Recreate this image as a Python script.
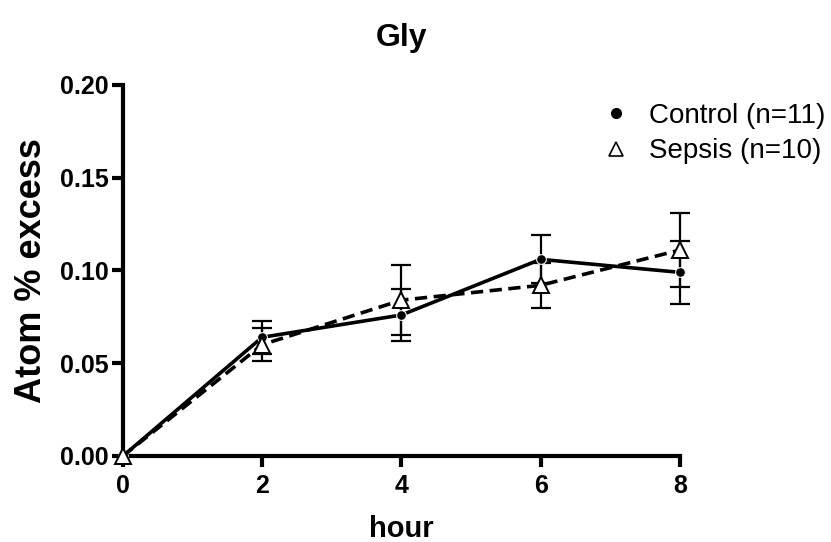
import numpy as np, pandas as pd, matplotlib
matplotlib.use('Agg')
import matplotlib.pyplot as plt, seaborn as sns
from matplotlib.lines import Line2D

hours = [0, 2, 4, 6, 8]
control_mean = [0.0, 0.064, 0.076, 0.106, 0.099]
control_err = [0.0, 0.009, 0.014, 0.013, 0.017]
sepsis_mean = [0.0, 0.060, 0.084, 0.092, 0.111]
sepsis_err = [0.0, 0.009, 0.019, 0.012, 0.020]
groups = ['Control (n=11)', 'Sepsis (n=10)']

sns.set_style('ticks')
plt.rcParams['font.family'] = ['Liberation Sans', 'DejaVu Sans']
for k in ['text.color', 'axes.labelcolor', 'xtick.color', 'ytick.color', 'axes.edgecolor']:
    plt.rcParams[k] = 'black'

df = pd.DataFrame({
    'hour': hours * 2,
    'val': control_mean + sepsis_mean,
    'grp': [groups[0]] * len(hours) + [groups[1]] * len(hours),
})

fig = plt.figure(figsize=(8.31, 5.42), dpi=100)
ax = fig.add_axes([0.148, 0.1587, 0.670, 0.6845])

# barras de error primero
ax.errorbar(hours, control_mean, yerr=control_err, fmt='none', ecolor='black', elinewidth=1.6, capsize=7, capthick=1.6, zorder=2, clip_on=False)
ax.errorbar(hours, sepsis_mean, yerr=sepsis_err, fmt='none', ecolor='black', elinewidth=1.6, capsize=7, capthick=1.6, zorder=2, clip_on=False)

sns.lineplot(data=df, x='hour', y='val', hue='grp', style='grp',
             palette=['black', 'black'], markers={groups[0]: 'o', groups[1]: '^'},
             dashes={groups[0]: '', groups[1]: (3.4, 1.8)}, linewidth=2.6,
             markersize=8, ax=ax, zorder=3, legend=False, clip_on=False)
for ln in ax.get_lines():
    if ln.get_marker() == '^':
        ln.set_markerfacecolor('white'); ln.set_markeredgecolor('black'); ln.set_markersize(12); ln.set_markeredgewidth(1.4)
    elif ln.get_marker() == 'o':
        ln.set_markersize(7)

ax.set_xlim(0, 8)
ax.set_ylim(0, 0.20)
ax.set_xticks([0, 2, 4, 6, 8])
ax.set_yticks([0.0, 0.05, 0.10, 0.15, 0.20])
ax.set_yticklabels(['0.00', '0.05', '0.10', '0.15', '0.20'])
for s in ['top', 'right']:
    ax.spines[s].set_visible(False)
for s in ['left', 'bottom']:
    ax.spines[s].set_linewidth(3)
ax.tick_params(axis='both', width=3, length=8, labelsize=18, pad=2)
ax.tick_params(axis='x', pad=5)
for t in ax.get_xticklabels() + ax.get_yticklabels():
    t.set_fontweight('bold')
ax.set_xlabel('hour', fontsize=21, fontweight='bold', labelpad=12)
ax.set_ylabel('Atom % excess', fontsize=26, fontweight='bold', labelpad=8)
ax.set_title('Gly', fontsize=23, fontweight='bold', pad=28)

handles = [Line2D([], [], color='black', marker='o', linestyle='none', markersize=7),
           Line2D([], [], color='black', marker='^', markerfacecolor='white', linestyle='none', markersize=10, markeredgewidth=1.2)]
ax.legend(handles, groups, loc='upper left', bbox_to_anchor=(0.81, 1.02), frameon=False,
          fontsize=20, handletextpad=0.6, labelspacing=0.35, handlelength=1.2)

fig.savefig('out.png', dpi=100)
